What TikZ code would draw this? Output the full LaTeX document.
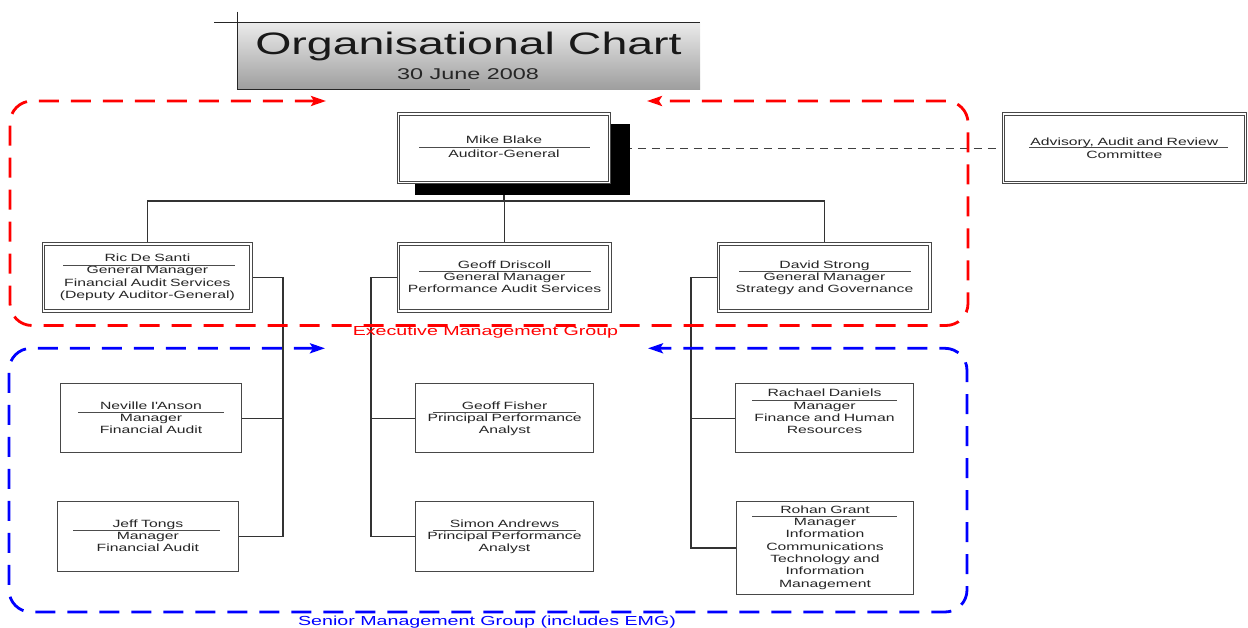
\documentclass[tikz,border=0pt]{standalone}
\usepackage{fontspec}
\newfontfamily\wf{Liberation Sans}[FakeStretch=1.5]
\usetikzlibrary{arrows.meta,backgrounds}
\definecolor{grpred}{RGB}{255,0,0}
\definecolor{grpblue}{RGB}{0,0,255}
\newcommand\ptext[7]{%
  \node[ptxt] (#1) at (#2,#3) {#7};
  \draw[ul] (#4,#5) -- (#6,#5);}
\begin{document}
\begin{tikzpicture}[x=1pt,y=-1pt,
  dbox/.style={rectangle, draw=black!72, double=white, double distance=1.5pt, line width=0.9pt, fill=white, inner sep=0pt},
  sbox/.style={rectangle, draw=black!72, line width=1.2pt, fill=white, inner sep=0pt},
  shadowbox/.style={rectangle, fill=black, inner sep=0pt, minimum width=215, minimum height=71},
  conn/.style={draw=black!80, line width=1.2pt},
  ul/.style={draw=black!70, line width=0.9pt},
  mbdash/.style={draw=black!75, line width=1pt, dash pattern=on 8pt off 6pt},
  ptxt/.style={anchor=base, text width=240pt, align=center, inner sep=0pt, text=black!85,
    font=\wf\fontsize{10.5}{12.3}\selectfont},
  titletxt/.style={anchor=base, inner sep=0pt, text=black!90, font=\wf\fontsize{31}{31}\selectfont},
  datetxt/.style={anchor=base, inner sep=0pt, text=black!85, font=\wf\fontsize{15.6}{16}\selectfont},
  grptxt/.style={anchor=base, inner sep=0pt, font=\wf\fontsize{13.1}{14}\selectfont},
  grpframe/.style={line width=2.8pt, dash pattern=on 20pt off 12pt, rounded corners=22pt,
    {Stealth[length=15pt,width=10pt,inset=3pt]}-{Stealth[length=15pt,width=10pt,inset=3pt]}}
]
\useasboundingbox (0,0) rectangle (1248,628);

% title block
\shade[top color=black!8, bottom color=black!38] (238,22.7) rectangle (700,89.3);
\draw[line width=1.2pt, black!85] (214,22.7) -- (700,22.7);
\draw[line width=1.3pt, black!85] (237.5,11.7) -- (237.5,89.3) -- (470,89.3);
\node[titletxt] (title) at (468.5,55) {Organisational Chart};
\node[datetxt] (date) at (468,79.3) {30 June 2008};

% group frames
\draw[grpframe, grpred] (326,101) -- (10,101) -- (10,325.5) -- (968,325.5) -- (968,101) -- (647,101);
\draw[grpframe, grpblue] (325,348.3) -- (9,348.3) -- (9,612) -- (967,612) -- (967,348.3) -- (648,348.3);

% boxes
\node[shadowbox] (mbsh) at (522.5,159.5) {};
\node[dbox, minimum width=211, minimum height=68.4] (mb) at (503.9,148.2) {};
\node[dbox, minimum width=242, minimum height=68.4] (adv) at (1124.4,148.2) {};
\node[dbox, minimum width=207.4, minimum height=67.1] (ric) at (147.4,277.5) {};
\node[dbox, minimum width=211.7, minimum height=67.1] (gd) at (504.2,277.5) {};
\node[dbox, minimum width=211.7, minimum height=67.1] (dav) at (824.2,277.5) {};
\node[sbox, minimum width=181, minimum height=69] (nev) at (151,418.3) {};
\node[sbox, minimum width=181.3, minimum height=69.7] (jeff) at (147.9,536.3) {};
\node[sbox, minimum width=178.3, minimum height=69] (gf) at (504.7,418.3) {};
\node[sbox, minimum width=178, minimum height=69.7] (sa) at (504.5,536.3) {};
\node[sbox, minimum width=178, minimum height=69] (rd) at (824.5,418.3) {};
\node[sbox, minimum width=177, minimum height=93] (rg) at (825,548) {};

% texts
\ptext{mbt}{504}{144}{419}{147.7}{590}{Mike Blake\\[1.7pt]Auditor-General}
\ptext{advt}{1124.4}{145.8}{1029}{147.7}{1228}{Advisory, Audit and Review\\Committee}
\ptext{rict}{147.4}{261.7}{63}{265}{235}{Ric De Santi\\General Manager\\Financial Audit Services\\(Deputy Auditor-General)}
\ptext{gdt}{504.5}{268.3}{419}{271}{591}{Geoff Driscoll\\General Manager\\Performance Audit Services}
\ptext{davt}{824.5}{268.3}{739}{271}{911}{David Strong\\General Manager\\Strategy and Governance}
\ptext{nevt}{151}{409.3}{78}{412.3}{224}{Neville I\textquotesingle Anson\\Manager\\Financial Audit}
\ptext{jefft}{147.9}{527.3}{73}{530}{220}{Jeff Tongs\\Manager\\Financial Audit}
\ptext{gft}{504.7}{409.3}{433}{412.3}{576}{Geoff Fisher\\Principal Performance\\Analyst}
\ptext{sat}{504.5}{527.3}{433}{530}{576}{Simon Andrews\\Principal Performance\\Analyst}
\ptext{rdt}{824.5}{396.7}{752}{400}{897}{Rachael Daniels\\Manager\\Finance and Human\\Resources}
\ptext{rgt}{825}{513.3}{752}{516.7}{897}{Rohan Grant\\Manager\\Information\\Communications\\Technology and\\Information\\Management}

% group labels
\node[grptxt, text=grpred] (emg) at (485.5,336) {Executive Management Group};
\node[grptxt, text=grpblue] (smg) at (487,625) {Senior Management Group (includes EMG)};

% connectors
\begin{pgfonlayer}{background}
\coordinate (bus) at (505,201);
\coordinate (rbus) at (283,0);
\coordinate (gbus) at (371,0);
\coordinate (dbus) at (691,0);
\draw[conn] (mb.south) -- (mb.south |- bus);
\draw[conn] (ric.north) |- (bus) -| (dav.north);
\draw[conn] (gd.north) -- (gd.north |- bus);
\draw[mbdash] (mb.east) -- (adv.west);
\draw[conn] (ric.east) -| (jeff.east -| rbus) -- (jeff.east);
\draw[conn] (nev.east) -- (nev.east -| rbus);
\draw[conn] (gd.west) -| (sa.west -| gbus) -- (sa.west);
\draw[conn] (gf.west) -- (gf.west -| gbus);
\draw[conn] (dav.west) -| (rg.west -| dbus) -- (rg.west);
\draw[conn] (rd.west) -- (rd.west -| dbus);
\end{pgfonlayer}
\end{tikzpicture}
\end{document}
